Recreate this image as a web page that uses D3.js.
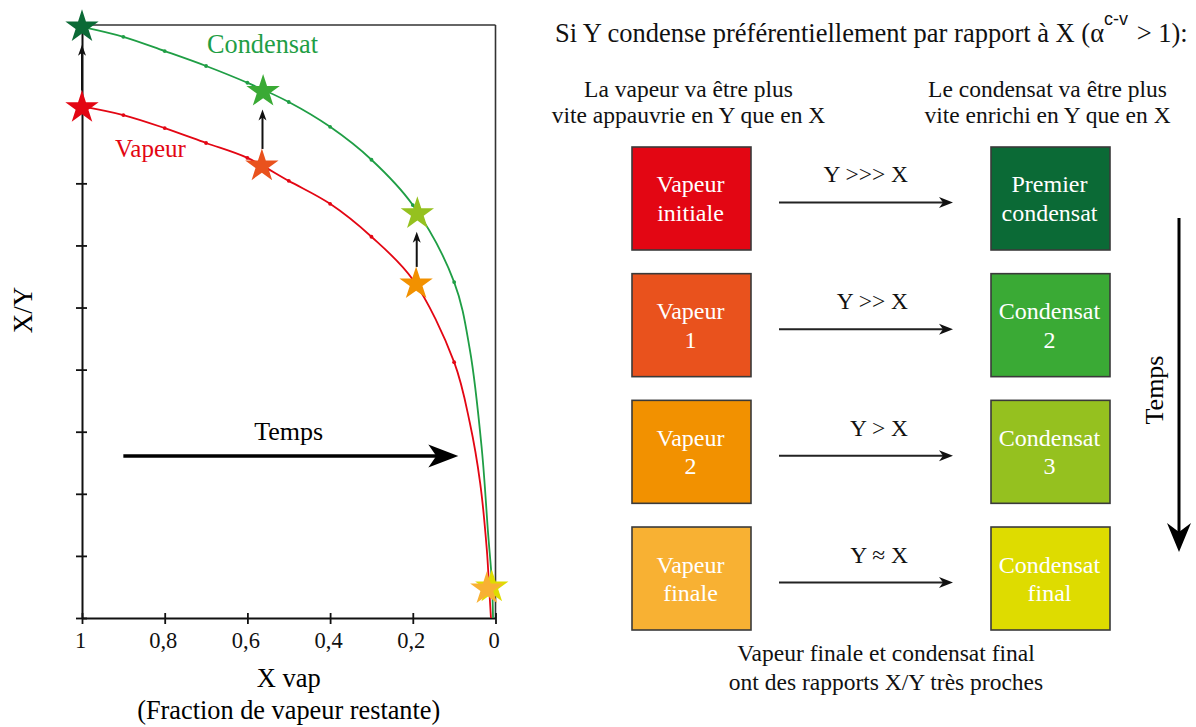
<!DOCTYPE html>
<html><head><meta charset="utf-8">
<script src="https://cdn.jsdelivr.net/npm/d3@7"></script>
<style>body{margin:0;background:#fff}svg{display:block}</style>
</head><body>
<svg id="c" width="1196" height="727"></svg>
<script>
// ---------- data ----------
const xTicks = [1, 0.8, 0.6, 0.4, 0.2, 0];
const xTickLabels = ["1", "0,8", "0,6", "0,4", "0,2", "0"];
const yTicks = [0, 1, 2, 3, 4, 5, 6, 7];

const condensatX = [1, 0.9, 0.8, 0.7, 0.6, 0.5, 0.4, 0.3, 0.2, 0.1, 0.062, 0.033, 0.018, 0.0085, 0.006];
const condensatY = [9.52, 9.36, 9.13, 8.89, 8.62, 8.31, 7.91, 7.38, 6.65, 5.41, 4.32, 2.71, 1.37, 0.56, 0];
const vapeurX = [1, 0.9, 0.8, 0.7, 0.6, 0.5, 0.4, 0.3, 0.2, 0.1, 0.062, 0.037, 0.021, 0.016, 0.011];
const vapeurY = [8.24, 8.10, 7.89, 7.65, 7.41, 7.04, 6.67, 6.14, 5.45, 4.12, 3.14, 2.17, 1.10, 0.56, 0];
const markerX = [0.9, 0.8, 0.7, 0.6, 0.5, 0.4, 0.3, 0.2, 0.1];

const starNames = ["Vapeur initiale", "Premier condensat", "Vapeur 1", "Condensat 2", "Vapeur 2", "Condensat 3", "Condensat final", "Vapeur finale"];
const starX = [1, 1, 0.565, 0.562, 0.192, 0.189, 0.009, 0.021];
const starY = [8.22, 9.52, 7.28, 8.48, 5.38, 6.51, 0.50, 0.47];
const starColors = ["#e30613", "#0b6a36", "#e9521d", "#3aaa35", "#f29100", "#95c11f", "#dedc00", "#f8b133"];
const starPairs = [[0, 1], [2, 3], [4, 5]];

const vapeurBoxLabels = [["Vapeur", "initiale"], ["Vapeur", "1"], ["Vapeur", "2"], ["Vapeur", "finale"]];
const condensatBoxLabels = [["Premier", "condensat"], ["Condensat", "2"], ["Condensat", "3"], ["Condensat", "final"]];
const vapeurBoxColors = ["#e30613", "#e9521d", "#f29100", "#f8b133"];
const condensatBoxColors = ["#0b6a36", "#3aaa35", "#95c11f", "#dedc00"];
const relations = ["Y >>> X", "Y >> X", "Y > X", "Y \u2248 X"];

// ---------- drawing ----------
const svg = d3.select("#c");
const serif = "'Liberation Serif','Times New Roman',serif";
const green = "#1f9e45", red = "#e30613";

const x = d3.scaleLinear().domain([1, 0]).range([82, 495.5]);
const y = d3.scaleLinear().domain([0, 9.55]).range([618, 25]);

// frame top & right
svg.append("line").attr("x1", x(1)).attr("x2", x(0)).attr("y1", y(9.55)).attr("y2", y(9.55))
  .attr("stroke", "#333").attr("stroke-width", 1.6);
svg.append("line").attr("x1", x(0)).attr("x2", x(0)).attr("y1", y(9.55)).attr("y2", y(0))
  .attr("stroke", "#333").attr("stroke-width", 1.6);

// y axis
const gy = svg.append("g").attr("transform", `translate(${x(1)},0)`)
  .call(d3.axisLeft(y).tickValues(yTicks).tickSize(6).tickSizeOuter(0).tickFormat(""));
gy.selectAll(".tick line").attr("x1", 5).attr("x2", -6).attr("stroke", "#111").attr("stroke-width", 1.8);
gy.select(".domain").attr("stroke", "#111").attr("stroke-width", 2);

// x axis
const gx = svg.append("g").attr("transform", `translate(0,${y(0)})`)
  .call(d3.axisBottom(x).tickValues(xTicks).tickSize(6).tickSizeOuter(0).tickFormat((d, i) => xTickLabels[i]));
gx.selectAll(".tick line").attr("y1", -5).attr("y2", 6).attr("stroke", "#111").attr("stroke-width", 1.8);
gx.select(".domain").attr("stroke", "#111").attr("stroke-width", 2);
gx.selectAll(".tick text").attr("y", 14).attr("dx", -2).attr("font-family", serif).attr("font-size", 22.5).attr("fill", "#111");

// axis titles
svg.append("text").attr("x", x(0.5)).attr("y", 687).attr("text-anchor", "middle")
  .attr("font-family", serif).attr("font-size", 26.5).text("X vap");
svg.append("text").attr("x", x(0.5)).attr("y", 719).attr("text-anchor", "middle")
  .attr("font-family", serif).attr("font-size", 26.3).text("(Fraction de vapeur restante)");
svg.append("text").attr("transform", "translate(32,310) rotate(-90)").attr("text-anchor", "middle")
  .attr("font-family", serif).attr("font-size", 27).text("X/Y");

// curves
const line = d3.line().x(d => x(d[0])).y(d => y(d[1])).curve(d3.curveCatmullRom.alpha(0.5));
const condPts = condensatX.map((v, i) => [v, condensatY[i]]);
const vapPts = vapeurX.map((v, i) => [v, vapeurY[i]]);
svg.append("path").attr("d", line(condPts)).attr("fill", "none").attr("stroke", green).attr("stroke-width", 1.8);
svg.append("path").attr("d", line(vapPts)).attr("fill", "none").attr("stroke", red).attr("stroke-width", 1.8);
[[condPts, green], [vapPts, red]].forEach(([pts, col]) => {
  svg.selectAll(null).data(pts.filter(p => markerX.includes(p[0]))).enter().append("circle")
    .attr("cx", d => x(d[0])).attr("cy", d => y(d[1])).attr("r", 1.9).attr("fill", col);
});

// curve labels
svg.append("text").attr("x", 207).attr("y", 53).attr("font-family", serif).attr("font-size", 26.3)
  .attr("fill", green).text("Condensat");
svg.append("text").attr("x", 115).attr("y", 157).attr("font-family", serif).attr("font-size", 25)
  .attr("fill", red).text("Vapeur");

// arrowhead helper (tip at tx,ty; direction dx,dy unit)
function head(tx, ty, dx, dy, len, hw, notch) {
  const px = -dy, py = dx;
  const bx = tx - dx * len, by = ty - dy * len;
  const nx = tx - dx * (len - notch), ny = ty - dy * (len - notch);
  return `M${tx},${ty}L${bx + px * hw},${by + py * hw}L${nx},${ny}L${bx - px * hw},${by - py * hw}Z`;
}

// vertical arrows vapeur -> condensat
starPairs.forEach(([a, b]) => {
  const xa = x((starX[a] + starX[b]) / 2);
  const y0 = y(starY[a]) - 17, y1 = y(starY[b]) + 18;
  svg.append("line").attr("x1", xa).attr("x2", xa).attr("y1", y0).attr("y2", y1 + 6)
    .attr("stroke", "#111").attr("stroke-width", 2);
  svg.append("path").attr("d", head(xa, y1, 0, -1, 11, 4, 3)).attr("fill", "#111");
});

// stars
svg.selectAll(".star").data(starX.map((v, i) => i)).enter().append("path")
  .attr("class", "star")
  .attr("transform", i => `translate(${x(starX[i])},${y(starY[i])})`)
  .attr("d", d3.symbol(d3.symbolStar, 345)())
  .attr("fill", i => starColors[i]);

// Temps horizontal arrow
const ty0 = y(2.61);
svg.append("line").attr("x1", x(0.9)).attr("x2", x(0.09) - 20).attr("y1", ty0).attr("y2", ty0)
  .attr("stroke", "#000").attr("stroke-width", 3.5);
svg.append("path").attr("d", head(x(0.09), ty0, 1, 0, 30, 11.5, 8)).attr("fill", "#000");
svg.append("text").attr("x", x(0.5)).attr("y", y(2.87)).attr("text-anchor", "middle")
  .attr("font-family", serif).attr("font-size", 26).text("Temps");

// ---------- right panel ----------
const t = svg.append("text").attr("x", 555).attr("y", 42).attr("font-family", serif).attr("font-size", 26.5).attr("fill", "#111");
t.append("tspan").text("Si Y condense préférentiellement par rapport à X (\u03b1");
t.append("tspan").attr("dy", -17).attr("dx", 0).attr("font-family", "'Liberation Sans',Arial,sans-serif").attr("font-size", 18).text("c-v");
t.append("tspan").attr("dy", 17).attr("dx", 2).text(" > 1):");

const colCenters = [691.5, 1050.5];
const boxW = 119;
const row = d3.scaleBand().domain(d3.range(4)).range([147, 630]).paddingInner(0.187);

[["La vapeur va être plus", "vite appauvrie en Y que en X"], ["Le condensat va être plus", "vite enrichi en Y que en X"]]
  .forEach((lines, c) => {
    lines.forEach((s, k) => svg.append("text").attr("x", colCenters[c] - 3).attr("y", 97 + k * 26)
      .attr("text-anchor", "middle").attr("font-family", serif).attr("font-size", 23.5).attr("fill", "#111").text(s));
  });

function boxes(labels, colors, cx) {
  labels.forEach((lab, i) => {
    const y0 = row(i), h = row.bandwidth(), cy = y0 + h / 2;
    svg.append("rect").attr("x", cx - boxW / 2).attr("y", y0).attr("width", boxW).attr("height", h)
      .attr("fill", colors[i]).attr("stroke", "#3a3a3a").attr("stroke-width", 1.6);
    lab.forEach((s, k) => svg.append("text").attr("x", cx - 1).attr("y", cy - 6 + k * 28.5)
      .attr("text-anchor", "middle").attr("font-family", serif).attr("font-size", 24).attr("fill", "#fff").text(s));
  });
}
boxes(vapeurBoxLabels, vapeurBoxColors, colCenters[0]);
boxes(condensatBoxLabels, condensatBoxColors, colCenters[1]);

relations.forEach((r, i) => {
  const cy = row(i) + row.bandwidth() / 2;
  const ay = cy + 4;
  svg.append("line").attr("x1", 779).attr("x2", 943).attr("y1", ay).attr("y2", ay)
    .attr("stroke", "#222").attr("stroke-width", 2);
  svg.append("path").attr("d", head(953, ay, 1, 0, 14, 5.5, 4)).attr("fill", "#111");
  svg.append("text").attr("x", 908).attr("y", cy - 16).attr("text-anchor", "end")
    .attr("font-family", serif).attr("font-size", 23.5).attr("fill", "#111").text(r);
});

["Vapeur finale et condensat final", "ont des rapports X/Y très proches"].forEach((s, k) =>
  svg.append("text").attr("x", 886).attr("y", 661 + k * 29).attr("text-anchor", "middle")
    .attr("font-family", serif).attr("font-size", 23.5).attr("fill", "#111").text(s));

// Temps vertical arrow
svg.append("line").attr("x1", 1179).attr("x2", 1179).attr("y1", 218).attr("y2", 535)
  .attr("stroke", "#000").attr("stroke-width", 3);
svg.append("path").attr("d", head(1179, 552, 0, 1, 29, 12, 9)).attr("fill", "#000");
svg.append("text").attr("transform", "translate(1163,390) rotate(-90)").attr("text-anchor", "middle")
  .attr("font-family", serif).attr("font-size", 26).text("Temps");
</script>
</body></html>
